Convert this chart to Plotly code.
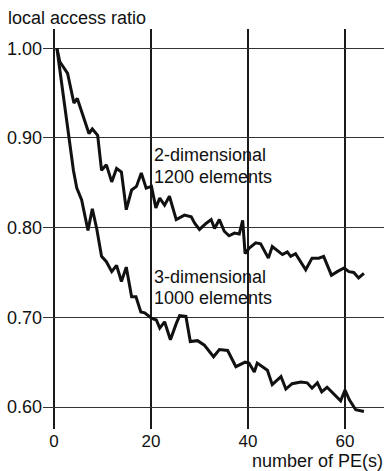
import plotly.graph_objects as go

# Number of processing elements and the measured local access ratio
pe_2d = [0.6, 1.2, 2.8, 4.1, 4.8, 7.2, 7.9, 9.0, 9.8, 10.8, 11.9, 12.9, 13.9, 14.9,
         16.0, 17.0, 18.0, 19.0, 20.1, 21.0, 21.8, 22.8, 23.8, 25.2, 26.9, 28.3,
         29.0, 30.0, 31.4, 32.4, 33.1, 34.1, 35.1, 36.1, 37.2, 38.2, 38.9, 39.4,
         40.2, 41.6, 42.6, 44.2, 45.0, 46.3, 47.1, 48.1, 48.8, 49.8, 51.9, 53.2,
         54.6, 55.6, 57.2, 58.4, 59.8, 60.8, 61.8, 62.8, 63.9]
ratio_2d = [1.000, 0.985, 0.972, 0.939, 0.944, 0.905, 0.910, 0.903, 0.864, 0.870,
            0.851, 0.866, 0.862, 0.820, 0.842, 0.846, 0.861, 0.844, 0.846, 0.822,
            0.833, 0.825, 0.835, 0.809, 0.814, 0.812, 0.805, 0.798, 0.805, 0.809,
            0.799, 0.809, 0.796, 0.791, 0.794, 0.793, 0.808, 0.771, 0.777, 0.783,
            0.782, 0.766, 0.779, 0.774, 0.770, 0.773, 0.768, 0.771, 0.753, 0.766,
            0.766, 0.768, 0.747, 0.751, 0.755, 0.751, 0.750, 0.744, 0.749]

pe_3d = [0.6, 3.4, 4.0, 4.7, 5.7, 7.0, 7.9, 8.8, 9.8, 10.8, 11.9, 12.9, 13.9, 14.9,
         16.0, 16.9, 17.9, 18.7, 20.1, 21.1, 21.8, 22.8, 24.0, 25.2, 25.9, 27.2,
         28.1, 29.6, 31.0, 32.9, 34.1, 35.8, 37.5, 39.4, 40.2, 41.3, 41.9, 44.0,
         45.0, 46.8, 47.8, 49.1, 50.9, 52.2, 53.2, 54.3, 55.2, 56.3, 57.7, 59.1,
         60.0, 60.9, 62.2, 63.9]
ratio_3d = [1.000, 0.885, 0.864, 0.844, 0.831, 0.797, 0.821, 0.799, 0.768, 0.762,
            0.751, 0.758, 0.740, 0.756, 0.723, 0.723, 0.706, 0.705, 0.699, 0.697,
            0.688, 0.695, 0.675, 0.693, 0.702, 0.701, 0.673, 0.674, 0.669, 0.656,
            0.664, 0.663, 0.645, 0.650, 0.649, 0.639, 0.649, 0.641, 0.625, 0.634,
            0.620, 0.626, 0.628, 0.627, 0.621, 0.627, 0.617, 0.622, 0.615, 0.607,
            0.619, 0.608, 0.597, 0.595]

x_ticks = [0, 20, 40, 60]
y_ticks = [0.60, 0.70, 0.80, 0.90, 1.00]
y_tick_text = ["0.60", "0.70", "0.80", "0.90", "1.00"]

FONT = "Liberation Sans, Arial, Helvetica, sans-serif"
line_style = dict(color="#111111", width=3)

fig = go.Figure()
fig.add_trace(go.Scatter(x=pe_2d, y=ratio_2d, mode="lines", line=line_style,
                         showlegend=False))
fig.add_trace(go.Scatter(x=pe_3d, y=ratio_3d, mode="lines", line=line_style,
                         showlegend=False))

label_font = dict(family=FONT, size=18, color="#111111")
small_font = dict(family=FONT, size=17, color="#111111")
curve_labels = [
    (20.3, 0.881, "2-dimensional"),
    (20.3, 0.857, "1200 elements"),
    (20.3, 0.745, "3-dimensional"),
    (20.3, 0.7215, "1000 elements"),
]
annotations = [
    dict(x=x, y=y, xref="x", yref="y", text=t, showarrow=False,
         xanchor="left", yanchor="middle", font=label_font)
    for x, y, t in curve_labels
]
annotations.append(dict(x=-0.108, y=1.0275, xref="paper", yref="paper",
                        text="local access ratio", showarrow=False,
                        xanchor="left", yanchor="middle", font=label_font))
annotations.append(dict(x=1.003, y=-0.079, xref="paper", yref="paper",
                        text="number of PE(s)", showarrow=False,
                        xanchor="right", yanchor="middle", font=label_font))

fig.update_layout(
    width=384, height=471,
    margin=dict(l=43, r=0, t=29, b=42),
    paper_bgcolor="white", plot_bgcolor="white",
    font=label_font,
    annotations=annotations,
    xaxis=dict(range=[-2.27, 68.04], tickvals=x_ticks, ticks="",
               ticklabelstandoff=0,
               showgrid=True, gridcolor="#1a1a1a", gridwidth=1.5,
               zeroline=False, showline=False, tickfont=small_font),
    yaxis=dict(range=[0.5755, 1.0215], tickvals=y_ticks, ticktext=y_tick_text,
               ticks="", showgrid=True, gridcolor="#333333", gridwidth=1.3,
               zeroline=False, showline=False, tickfont=label_font),
)

fig.write_html("out.html")
